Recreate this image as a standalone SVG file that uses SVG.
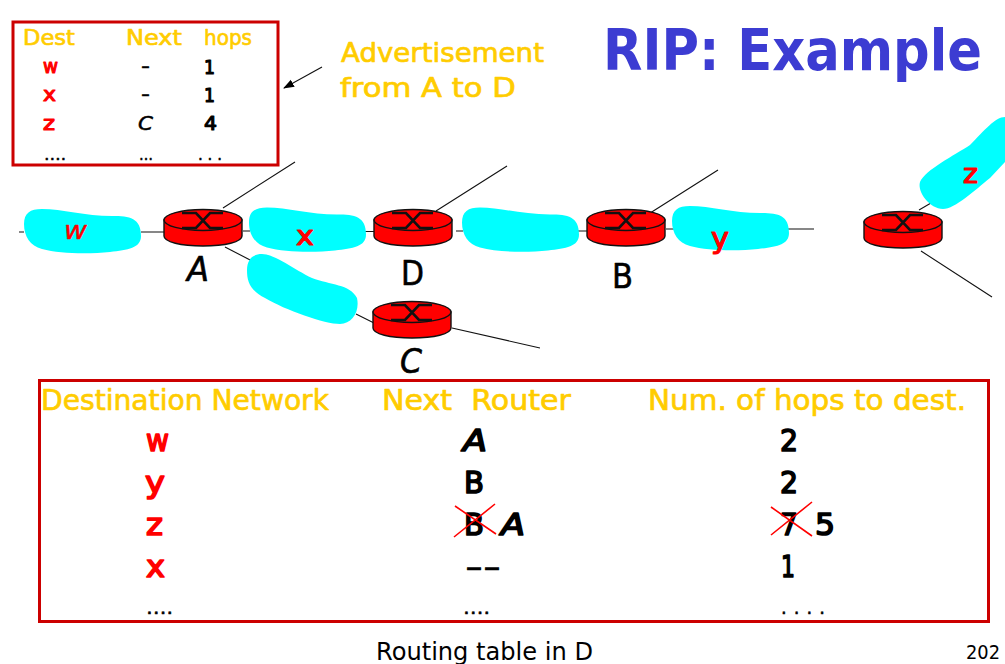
<svg xmlns="http://www.w3.org/2000/svg" width="1005" height="664" viewBox="0 0 1005 664">
<style>
text{font-family:"DejaVu Sans","Open Sans",sans-serif;stroke-linejoin:round}
.ln{stroke:#111;stroke-width:1.1;fill:none}
.box{fill:#fff;stroke:#c00;stroke-width:3}
.blob{fill:#0ff}
.hd{fill:#fc0;stroke:#fc0;stroke-width:.7}
.hs{font-size:22px}
.hl{font-size:26px}
.r{fill:#f00;stroke:#f00;stroke-width:1.2}
.k{fill:#000;stroke:#000;stroke-width:1.2}
.s{font-size:20px}
.b{font-size:31px;stroke-width:1.7}
.lab{fill:#000;stroke:#000;stroke-width:.6;font-size:33px}
.t{stroke-width:.5}
.x{stroke:#f00;stroke-width:1.6}
</style>
<defs>
<marker id="ah" markerWidth="12" markerHeight="10" refX="10" refY="4" orient="auto" markerUnits="userSpaceOnUse"><path d="M0 0L11 4L0 8Z" fill="#000"/></marker>
<path id="blob" class="blob" d="M42 209C62 209 85 216 112 216C130 216 141 218 141 236C141 248 128 250 110 252C90 254 60 254 42 249C30 246 24 236 24 224C24 213 30 209 42 209Z"/>
<g id="router">
<path d="M-39 -8V8C-39 14-22 18 0 18C22 18 39 14 39 8V-8Z" fill="#f00" stroke="#111" stroke-width="1.4"/>
<ellipse cx="0" cy="-8" rx="39" ry="10.500" fill="#f00" stroke="#111" stroke-width="1.4"/>
<path d="M-21 -15H-7L7 0H20M-21 0H-7L7 -15H20" fill="none" stroke="#111" stroke-width="2.600"/>
</g>
</defs>
<g id="connectors">
<path class="ln" d="M19 232H24M141 232H166M243 231H250M365 231.500H376M456 231H463M577 231H589M666 229H674M788 229H814"/>
<path class="ln" d="M223 208L295 162M436 211L507 166M647 215L718 170M919 210L931 203M921 251L992 297M225 247L254 262M356 314L374 323M452 328L540 348"/>
<path d="M322 67L284 88" class="ln" marker-end="url(#ah)"/>
</g>
<g id="net-w"><use href="#blob"/><text x="64" y="239" class="r t" font-size="25" font-style="italic" textLength="23" lengthAdjust="spacingAndGlyphs">w</text></g>
<g id="net-x"><use href="#blob" transform="translate(225 -1.500)"/><text x="296" y="245" class="r" font-size="26" textLength="18" lengthAdjust="spacingAndGlyphs">x</text></g>
<g id="net-mid"><use href="#blob" transform="translate(438 -1.500)"/></g>
<g id="net-y"><use href="#blob" transform="translate(648 -3)"/><text x="711" y="248" class="r" font-size="29" textLength="18" lengthAdjust="spacingAndGlyphs">y</text></g>
<g id="net-low"><path class="blob" d="M262 254C275 254 295 270 312 278C330 285 350 284 357 298C360 312 352 324 340 324C325 324 285 310 265 298C250 290 247 282 247 270C247 260 252 254 262 254Z"/></g>
<g id="net-z"><path class="blob" d="M1005 117C995 117 985 130 970 145C955 155 925 170 920 182C917 192 930 209 943 209C955 209 975 190 990 178L1005 162Z"/><text x="963" y="183" class="r" font-size="26" textLength="15" lengthAdjust="spacingAndGlyphs">z</text></g>
<g id="router-A"><use href="#router" transform="translate(203 228)"/><text x="187" y="281" class="lab" font-style="italic" textLength="22" lengthAdjust="spacingAndGlyphs">A</text></g>
<g id="router-D"><use href="#router" transform="translate(413 228)"/><text x="401" y="285" class="lab" textLength="23" lengthAdjust="spacingAndGlyphs">D</text></g>
<g id="router-B"><use href="#router" transform="translate(626 228)"/><text x="612" y="288" class="lab" textLength="21" lengthAdjust="spacingAndGlyphs">B</text></g>
<g id="router-C"><use href="#router" transform="translate(412 320)"/><text x="400" y="373" class="lab" font-style="italic" textLength="22" lengthAdjust="spacingAndGlyphs">C</text></g>
<g id="router-E"><use href="#router" transform="translate(903 230)"/></g>
<g id="title"><text transform="translate(603 70) scale(1 1.130)" font-size="50" font-weight="700" fill="#3c3cd2" textLength="379" lengthAdjust="spacingAndGlyphs">RIP: Example</text></g>
<g id="advert">
<text x="341" y="62" class="hd hl" textLength="203" lengthAdjust="spacingAndGlyphs">Advertisement</text>
<text x="340" y="97" class="hd hl" textLength="176" lengthAdjust="spacingAndGlyphs">from A to D</text>
</g>
<g id="small-table">
<rect class="box" x="13" y="22" width="265" height="143"/>
<text x="23" y="45" class="hd hs" textLength="52" lengthAdjust="spacingAndGlyphs">Dest</text>
<text x="126" y="45" class="hd hs" textLength="56" lengthAdjust="spacingAndGlyphs">Next</text>
<text x="204" y="45" class="hd hs" textLength="48" lengthAdjust="spacingAndGlyphs">hops</text>
<text x="43" y="73" class="r s" textLength="15" lengthAdjust="spacingAndGlyphs">w</text>
<text x="43" y="101" class="r s" textLength="13" lengthAdjust="spacingAndGlyphs">x</text>
<text x="43" y="130" class="r s" textLength="12" lengthAdjust="spacingAndGlyphs">z</text>
<text x="44" y="160" class="k t" font-size="15" textLength="22" lengthAdjust="spacingAndGlyphs">….</text>
<text x="141" y="73" class="k s t" textLength="9" lengthAdjust="spacingAndGlyphs">-</text>
<text x="141" y="101" class="k s t" textLength="9" lengthAdjust="spacingAndGlyphs">-</text>
<text x="138" y="130" class="k s t" font-style="italic" textLength="15" lengthAdjust="spacingAndGlyphs">C</text>
<text x="139" y="160" class="k t" font-size="15" textLength="14" lengthAdjust="spacingAndGlyphs">…</text>
<text x="204" y="74" class="k s" textLength="11" lengthAdjust="spacingAndGlyphs">1</text>
<text x="204" y="102" class="k s" textLength="11" lengthAdjust="spacingAndGlyphs">1</text>
<text x="204" y="130" class="k s" textLength="13" lengthAdjust="spacingAndGlyphs">4</text>
<text x="198" y="160" class="k t" font-size="15" textLength="24" lengthAdjust="spacing">...</text>
</g>
<g id="routing-table">
<rect class="box" x="39.500" y="380.500" width="949" height="241"/>
<text x="41" y="410" class="hd" font-size="28" textLength="288" lengthAdjust="spacingAndGlyphs">Destination Network</text>
<text x="382" y="410" class="hd" font-size="28" xml:space="preserve" textLength="189" lengthAdjust="spacingAndGlyphs">Next  Router</text>
<text x="648" y="410" class="hd" font-size="28" textLength="318" lengthAdjust="spacingAndGlyphs">Num. of hops to dest.</text>
<text x="146" y="451" class="r b" textLength="23" lengthAdjust="spacingAndGlyphs">w</text>
<text x="145" y="493" class="r b" textLength="20" lengthAdjust="spacingAndGlyphs">y</text>
<text x="146" y="535" class="r b" textLength="17" lengthAdjust="spacingAndGlyphs">z</text>
<text x="146" y="577" class="r b" textLength="19" lengthAdjust="spacingAndGlyphs">x</text>
<text x="146" y="614" class="k t" font-size="18" textLength="27" lengthAdjust="spacingAndGlyphs">….</text>
<text x="463" y="451" class="k b" font-style="italic" textLength="24" lengthAdjust="spacingAndGlyphs">A</text>
<text x="464" y="493" class="k b" textLength="20" lengthAdjust="spacingAndGlyphs">B</text>
<text x="464" y="535" class="k b" textLength="20" lengthAdjust="spacingAndGlyphs">B</text>
<text x="501" y="535" class="k b" font-style="italic" textLength="24" lengthAdjust="spacingAndGlyphs">A</text>
<text x="465" y="577" class="k b" style="stroke-width:.6" textLength="36" lengthAdjust="spacingAndGlyphs">--</text>
<text x="463" y="614" class="k t" font-size="18" textLength="27" lengthAdjust="spacingAndGlyphs">….</text>
<text x="780" y="451" class="k b" textLength="18" lengthAdjust="spacingAndGlyphs">2</text>
<text x="780" y="493" class="k b" textLength="18" lengthAdjust="spacingAndGlyphs">2</text>
<text x="780" y="535" class="k b" textLength="18" lengthAdjust="spacingAndGlyphs">7</text>
<text x="815" y="535" class="k b" textLength="20" lengthAdjust="spacingAndGlyphs">5</text>
<text x="781" y="577" class="k b" textLength="14" lengthAdjust="spacingAndGlyphs">1</text>
<text x="781" y="614" class="k t" font-size="18" textLength="44" lengthAdjust="spacing">....</text>
<path class="x" d="M455 506L496 534M454 537L495 504M771 507L812 536M771 535L812 502"/>
</g>
<g id="captions">
<text x="376" y="660" font-size="24" fill="#000" textLength="217" lengthAdjust="spacingAndGlyphs">Routing table in D</text>
<text x="966" y="659" font-size="19" fill="#000" textLength="34" lengthAdjust="spacingAndGlyphs">202</text>
</g>
</svg>
